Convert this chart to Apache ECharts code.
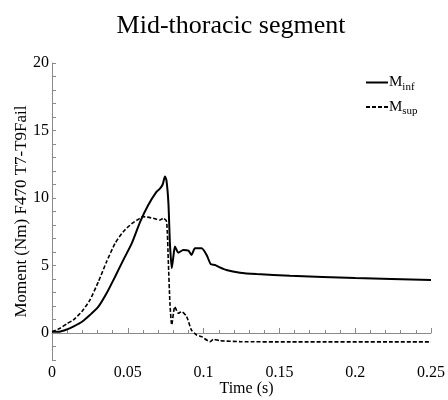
<!DOCTYPE html>
<html>
<head>
<meta charset="utf-8">
<script src="https://cdn.jsdelivr.net/npm/echarts@6/dist/echarts.min.js"></script>
<style>html,body{margin:0;padding:0;background:#fff}#c{width:448px;height:400px}</style>
</head>
<body>
<div id="c"></div>
<script>
const timeInf = [0, 0.005, 0.01, 0.014, 0.02, 0.025, 0.0306, 0.036, 0.0416, 0.047, 0.0526, 0.058, 0.0635, 0.069, 0.0712, 0.073, 0.0745, 0.0755, 0.0768, 0.0778, 0.079, 0.080, 0.0811, 0.0833, 0.0866, 0.09, 0.092, 0.0943, 0.0987, 0.102, 0.1047, 0.1075, 0.11, 0.115, 0.124, 0.135, 0.157, 0.2, 0.25];
const mInf = [0.1, 0.1, 0.27, 0.47, 0.85, 1.33, 1.95, 2.94, 4.17, 5.4, 6.64, 8.2, 9.48, 10.47, 10.7, 11.0, 11.6, 11.3, 9.6, 6.6, 4.8, 5.6, 6.4, 5.95, 6.15, 6.1, 5.78, 6.27, 6.27, 5.78, 5.1, 5.04, 4.9, 4.67, 4.47, 4.37, 4.24, 4.07, 3.93];
const timeSup = [0, 0.0053, 0.01, 0.014, 0.0196, 0.025, 0.0306, 0.036, 0.0416, 0.047, 0.0526, 0.058, 0.060, 0.0668, 0.0712, 0.0734, 0.0756, 0.0767, 0.0778, 0.079, 0.081, 0.0833, 0.0855, 0.0888, 0.092, 0.0954, 0.0987, 0.1042, 0.1064, 0.1108, 0.124, 0.157, 0.25];
const mSup = [0.1, 0.35, 0.7, 0.96, 1.58, 2.44, 3.8, 5.28, 6.64, 7.5, 8.1, 8.5, 8.62, 8.5, 8.37, 8.5, 8.25, 5.4, 2.2, 0.6, 1.95, 1.46, 1.58, 1.21, 0.22, -0.15, -0.27, -0.64, -0.47, -0.57, -0.64, -0.66, -0.66];
const seriesNames = ['M_inf', 'M_sup'];
const titleText = 'Mid-thoracic segment';
const xName = 'Time (s)';
const yName = 'Moment (Nm) F470 T7-T9Fail';

const FONT = '"Liberation Serif", "DejaVu Serif", serif';
const chart = echarts.init(document.getElementById('c'), null, {renderer: 'canvas'});
const axisGray = '#8a8a8a';
chart.setOption({
  animation: false,
  backgroundColor: '#fff',
  title: {
    text: titleText, left: 226, top: 8, textAlign: 'center',
    textStyle: {fontFamily: FONT, fontSize: 26, fontWeight: 'normal', color: '#000'}
  },
  legend: {
    orient: 'vertical', left: 365, top: 75, padding: 0, itemWidth: 22, itemHeight: 14, itemGap: 7,
    data: seriesNames,
    itemStyle: {opacity: 0},
    formatter: function (n) { const p = n.split('_'); return p[0] + '{s|' + p[1] + '}'; },
    textStyle: {
      fontFamily: FONT, fontSize: 15, color: '#000', padding: [0, 0, 0, -4],
      rich: {s: {fontFamily: FONT, fontSize: 11, color: '#000', padding: [9, 0, 0, 0]}}
    }
  },
  grid: {left: 52, right: 17, top: 63, bottom: 40, containLabel: false, outerBoundsMode: 'none'},
  xAxis: {
    type: 'value', min: 0, max: 0.25, interval: 0.05,
    name: xName, nameLocation: 'middle', nameGap: 21, nameMoveOverlap: false,
    nameTextStyle: {fontFamily: FONT, fontSize: 16, color: '#000', padding: [0, 0, 0, 10]},
    axisLine: {show: true, lineStyle: {color: axisGray, width: 1}},
    axisTick: {show: true, inside: true, length: 5, lineStyle: {color: axisGray}},
    minorTick: {show: true, splitNumber: 5, length: 3, lineStyle: {color: axisGray}},
    axisLabel: {fontFamily: FONT, fontSize: 16, color: '#000', margin: 5},
    splitLine: {show: false}
  },
  yAxis: {
    type: 'value', min: -2, max: 20, interval: 1,
    name: yName, nameLocation: 'middle', nameGap: 22, nameMoveOverlap: false,
    nameTextStyle: {fontFamily: FONT, fontSize: 17, color: '#000'},
    axisLine: {show: true, lineStyle: {color: axisGray, width: 1}},
    axisTick: {show: true, inside: true, length: 4, lineStyle: {color: axisGray}},
    axisLabel: {
      fontFamily: FONT, fontSize: 16, color: '#000', margin: 3,
      formatter: function (v) { return (Math.round(v) % 5 === 0) ? String(Math.round(v)) : ''; }
    },
    splitLine: {show: false}
  },
  series: [
    {
      name: seriesNames[0], type: 'line', symbol: 'none', smooth: 0.2,
      data: timeInf.map((t, i) => [t, mInf[i]]),
      lineStyle: {color: '#000', width: 2, type: 'solid'},
      itemStyle: {color: '#000'}
    },
    {
      name: seriesNames[1], type: 'line', symbol: 'none', smooth: 0.2,
      data: timeSup.map((t, i) => [t, mSup[i]]),
      lineStyle: {color: '#000', width: 1.6, type: [4, 2]},
      itemStyle: {color: '#000'}
    }
  ]
});
</script>
</body>
</html>
